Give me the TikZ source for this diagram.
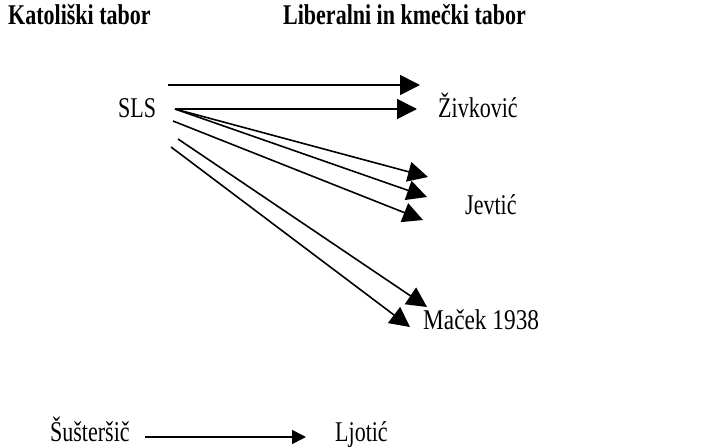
\documentclass[tikz,border=0pt]{standalone}
\usepackage{graphicx}
\usepackage{fontspec}
\setmainfont{Liberation Serif}
\usetikzlibrary{arrows.meta}
\newcommand\vstretch[1]{\scalebox{1}[1.3]{#1}}
\begin{document}
\begin{tikzpicture}[x=1pt,y=-1pt,
  lbl/.style={anchor=base west,inner sep=0pt,font=\fontsize{22}{26}\selectfont},
  head/.style={lbl,font=\fontsize{22}{26}\selectfont\bfseries},
  arr/.style={line width=1.6pt,-{Triangle[length=20pt,width=20pt]}},
  arrsmall/.style={line width=1.6pt,-{Triangle[length=14pt,width=14pt]}}]
\useasboundingbox (0,0) rectangle (724,447);
\node[head] (h1) at (8,24) {\vstretch{Katoliški tabor}};
\node[head] (h2) at (283,24) {\vstretch{Liberalni in kmečki tabor}};
\node[lbl] (sls) at (118,117) {\vstretch{SLS}};
\node[lbl] (ziv) at (438,117) {\vstretch{Živković}};
\node[lbl] (jev) at (465,214) {\vstretch{Jevtić}};
\node[lbl] (mac) at (423,329) {\vstretch{\scalebox{1.06}[1]{Maček 1938}}};
\node[lbl] (sus) at (50,441) {\vstretch{Šušteršič}};
\node[lbl] (lj) at (335,441) {\vstretch{Ljotić}};
\coordinate (s1) at (168,85);
\coordinate (s2) at (175,109);
\coordinate (s5) at (173,121);
\coordinate (s6) at (178,139);
\coordinate (s7) at (171,147);
\coordinate (t1) at (420,85);
\coordinate (t2) at (417,109);
\coordinate (t3) at (428,177);
\coordinate (t4) at (427,197);
\coordinate (t5) at (423,220);
\coordinate (t6) at (427,307);
\coordinate (t7) at (410,327);
\coordinate (b1) at (145,437);
\coordinate (b2) at (306,437);
\draw[arr] (s1) -- (t1);
\draw[arr] (s2) -- (t2);
\draw[arr] (s2) -- (t3);
\draw[arr] (s2) -- (t4);
\draw[arr] (s5) -- (t5);
\draw[arr] (s6) -- (t6);
\draw[arr] (s7) -- (t7);
\draw[arrsmall] (b1) -- (b2);
\end{tikzpicture}
\end{document}
